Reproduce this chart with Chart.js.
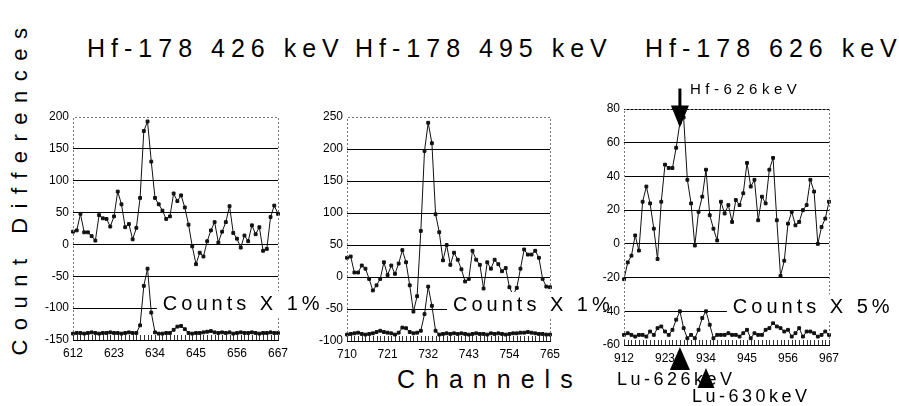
<!DOCTYPE html>
<html>
<head>
<meta charset="utf-8">
<script src="https://cdn.jsdelivr.net/npm/chart.js@4"></script>
<style>
  body { margin: 0; background: #fff; }
  #page { position: relative; width: 899px; height: 406px; overflow: hidden; background: #fff;
          font-family: "Liberation Sans", Arial, sans-serif; color: #000; }
  canvas { position: absolute; }
  .title { position: absolute; top: 36px; font-size: 25px; line-height: 25px; letter-spacing: 6px; white-space: nowrap; }
  #xtitle { position: absolute; left: 397px; top: 367px; font-size: 25px; line-height: 25px; letter-spacing: 10px; white-space: nowrap; }
  #ytitle { position: absolute; left: -150px; top: 176px; width: 340px; height: 22px; font-size: 22px; line-height: 22px;
            letter-spacing: 9.5px; text-align: center; white-space: nowrap; transform: rotate(-90deg); }
</style>
</head>
<body>
<div id="page">
  <div class="title" style="left:87px">Hf-178 426 keV</div>
  <div class="title" style="left:355px">Hf-178 495 keV</div>
  <div class="title" style="left:645px">Hf-178 626 keV</div>
  <div id="ytitle">Count Differences</div>
  <div id="xtitle">Channels</div>
  <canvas id="panel1" width="320" height="270" style="left:30px;top:100px"></canvas>
  <canvas id="panel2" width="300" height="270" style="left:310px;top:100px"></canvas>
  <canvas id="panel3" width="314" height="336" style="left:585px;top:70px"></canvas>
</div>
<script>
// channels run one by one, labels shown every 11th channel
function channelRange(first, last) {
    let out = [];
    for (let c = first; c <= last; c++) out.push(String(c));
    return out;
}
const channels426 = channelRange(612, 667);
const channels495 = channelRange(710, 765);
const channels626 = channelRange(912, 967);

// Hf-178 426 keV
const diff426 = [20,22,48,19,19,13,6,46,41,40, 28,44,83,63,27,32,8,26,73,178,
                 193,130,73,63,53,40,44,80,68,77, 58,31,-3,-31,-13,-19,5,22,35,3,
                 20,35,60,18,9,-5,14,5,30,16, 27,-10,-7,43,61,48];
const counts426 = [-140,-139,-139,-140,-139,-138,-139,-140,-139,-139, -138,-139,-139,-140,-139,-138,-139,-139,-127,-65,
                   -38,-107,-138,-140,-140,-139,-139,-134,-129,-128, -133,-139,-140,-139,-139,-138,-137,-136,-138,-139,
                   -138,-139,-138,-140,-139,-138,-139,-139,-138,-139, -140,-139,-139,-138,-139,-139];

// Hf-178 495 keV
const diff495 = [30,32,7,7,18,13,-3,-21,-13,-3, 23,3,18,5,21,42,23,-13,-54,-30,
                 72,197,241,209,98,70,26,50,19,38, 27,12,-7,-3,41,27,19,-18,23,13,
                 27,20,9,14,-16,-28,-17,13,43,35, 35,41,30,-3,-15,-16];
const counts495 = [-90,-89,-88,-87,-89,-90,-89,-88,-86,-84, -86,-87,-88,-90,-87,-79,-80,-86,-88,-87,
                   -84,-58,-15,-45,-84,-90,-89,-88,-89,-88, -89,-88,-89,-90,-89,-88,-89,-89,-90,-88,
                   -89,-88,-89,-90,-89,-88,-88,-87,-87,-86, -87,-88,-89,-89,-90,-90];

// Hf-178 626 keV
const diff626 = [-21,-11,-7,5,-4,25,34,24,9,-9, 25,47,45,45,57,72,75,38,24,-1,
                 19,28,44,17,9,2,25,18,23,13, 26,23,30,48,34,38,14,28,24,44,
                 51,14,-19,-10,12,19,11,13,20,23, 38,31,0,10,15,25];
const counts626 = [-54,-53,-54,-55,-54,-54,-55,-52,-54,-50, -49,-52,-54,-51,-45,-40,-50,-56,-54,-56,
                   -51,-44,-40,-48,-56,-54,-54,-54,-53,-54, -54,-55,-53,-51,-56,-53,-54,-54,-51,-50,
                   -47,-49,-50,-52,-51,-55,-53,-50,-55,-52, -52,-53,-55,-54,-52,-54];

const FONT = '"Liberation Sans", Arial, sans-serif';
const TICK_FONT = '"Liberation Sans Narrow", "Liberation Sans", Arial, sans-serif';

// dotted frame, inner channel ticks, the "Counts X n%" box and the peak arrows
const notesPlugin = {
    id: 'panelNotes',
    afterDraw(chart, args, opts) {
        const ctx = chart.ctx;
        const area = chart.chartArea;
        const xs = chart.scales.x, ys = chart.scales.y;
        ctx.save();
        ctx.strokeStyle = '#777';
        ctx.lineWidth = 1;
        ctx.setLineDash([2, 2]);
        ctx.beginPath();
        ctx.moveTo(area.left + 0.5, area.bottom);
        ctx.lineTo(area.left + 0.5, area.top + 0.5);
        ctx.lineTo(area.right + 0.5, area.top + 0.5);
        ctx.lineTo(area.right + 0.5, area.bottom);
        ctx.stroke();
        ctx.setLineDash([]);

        // one small tick per channel, pointing up from the axis
        ctx.strokeStyle = '#333';
        ctx.beginPath();
        xs.ticks.forEach((t, i) => {
            const px = Math.round(xs.getPixelForTick(i)) + 0.5;
            ctx.moveTo(px, area.bottom);
            ctx.lineTo(px, area.bottom - 5);
        });
        ctx.stroke();

        // scale note box
        const b = opts.box;
        ctx.font = '20px ' + FONT;
        ctx.letterSpacing = '4px';
        const bx = xs.getPixelForValue(b.index);
        const by = ys.getPixelForValue(b.value) - 4;
        const tw = ctx.measureText(b.text).width;
        ctx.fillStyle = '#fff';
        ctx.fillRect(bx, by - 13, tw + 8, 27);
        ctx.fillStyle = '#000';
        ctx.textBaseline = 'middle';
        ctx.textAlign = 'left';
        ctx.fillText(b.text, bx + 6, by);

        // labelled arrows
        (opts.arrows || []).forEach(a => {
            const x = xs.getPixelForValue(a.index);
            let tip;
            if (a.dir === 'down') tip = ys.getPixelForValue(a.value);
            else tip = area.bottom + a.below;
            ctx.font = a.size + 'px ' + FONT;
            ctx.letterSpacing = a.spacing + 'px';
            ctx.fillStyle = '#000';
            ctx.fillText(a.text, x + a.dx, tip + a.dy);
        });
        (opts.arrows || []).forEach(a => {
            const x = xs.getPixelForValue(a.index);
            ctx.fillStyle = '#000';
            ctx.beginPath();
            if (a.dir === 'down') {
                const tip = ys.getPixelForValue(a.value);
                ctx.fillRect(x - 1.5, tip - 39, 3, 20);
                ctx.moveTo(x, tip);
                ctx.lineTo(x - 9, tip - 22);
                ctx.lineTo(x + 9, tip - 22);
            } else {
                const tip = area.bottom + a.below;
                ctx.moveTo(x, tip);
                ctx.lineTo(x - a.half, tip + a.len);
                ctx.lineTo(x + a.half, tip + a.len);
            }
            ctx.closePath();
            ctx.fill();
        });
        ctx.restore();
    }
};

function makePanel(id, labels, diff, counts, yMin, yMax, yStep, fit, notes) {
    const lineStyle = {
        borderColor: '#111', backgroundColor: '#111', borderWidth: 1,
        pointStyle: 'rect', pointRadius: 2, tension: 0, fill: false
    };
    return new Chart(document.getElementById(id), {
        type: 'line',
        data: {
            labels: labels,
            datasets: [
                Object.assign({ label: 'difference', data: diff }, lineStyle),
                Object.assign({ label: 'counts', data: counts }, lineStyle)
            ]
        },
        plugins: [notesPlugin],
        options: {
            responsive: false,
            animation: false,
            layout: { padding: { top: fit.top, right: fit.right, bottom: fit.bottom, left: 0 } },
            plugins: {
                legend: { display: false },
                tooltip: { enabled: false },
                panelNotes: notes
            },
            scales: {
                x: {
                    offset: false,
                    grid: { drawOnChartArea: false, drawTicks: false },
                    border: { color: '#000' },
                    ticks: {
                        autoSkip: false, maxRotation: 0, padding: 6, color: '#000',
                        font: { family: TICK_FONT, size: 12 },
                        callback: function (v, i) { return i % 11 === 0 ? this.getLabelForValue(v) : ''; }
                    },
                    afterFit: s => { s.height = fit.xh; }
                },
                y: {
                    min: yMin, max: yMax,
                    grid: {
                        drawTicks: false,
                        color: c => (c.tick && c.tick.value === yMax && !fit.topLine) ? 'rgba(0,0,0,0)' : '#000'
                    },
                    border: { display: false },
                    ticks: { stepSize: yStep, padding: 4, color: '#000', font: { family: TICK_FONT, size: 12 } },
                    afterFit: s => { s.width = fit.yw; }
                }
            }
        }
    });
}

makePanel('panel1', channels426, diff426, counts426, -150, 200, 50,
    { top: 17, right: 72, bottom: 0, xh: 30, yw: 43, topLine: false },
    { box: { index: 22.5, value: -100, text: 'Counts X 1%' } });

makePanel('panel2', channels495, diff495, counts495, -100, 250, 50,
    { top: 17, right: 60, bottom: 0, xh: 29, yw: 37, topLine: false },
    { box: { index: 27.1, value: -50, text: 'Counts X 1%' } });

makePanel('panel3', channels626, diff626, counts626, -60, 80, 20,
    { top: 39, right: 70, bottom: 36, xh: 25, yw: 39, topLine: true },
    {
        box: { index: 27.6, value: -40, text: 'Counts X 5%' },
        arrows: [
            { text: 'Hf-626keV', index: 15, dir: 'down', value: 69, size: 15, spacing: 4.5, dx: 10, dy: -38 },
            { text: 'Lu-626keV', index: 15, dir: 'up', below: 2, len: 23, half: 10, size: 18, spacing: 3.5, dx: -63, dy: 33 },
            { text: 'Lu-630keV', index: 22, dir: 'up', below: 23, len: 20, half: 8.5, size: 18, spacing: 3.5, dx: -14, dy: 29 }
        ]
    });
</script>
</body>
</html>
